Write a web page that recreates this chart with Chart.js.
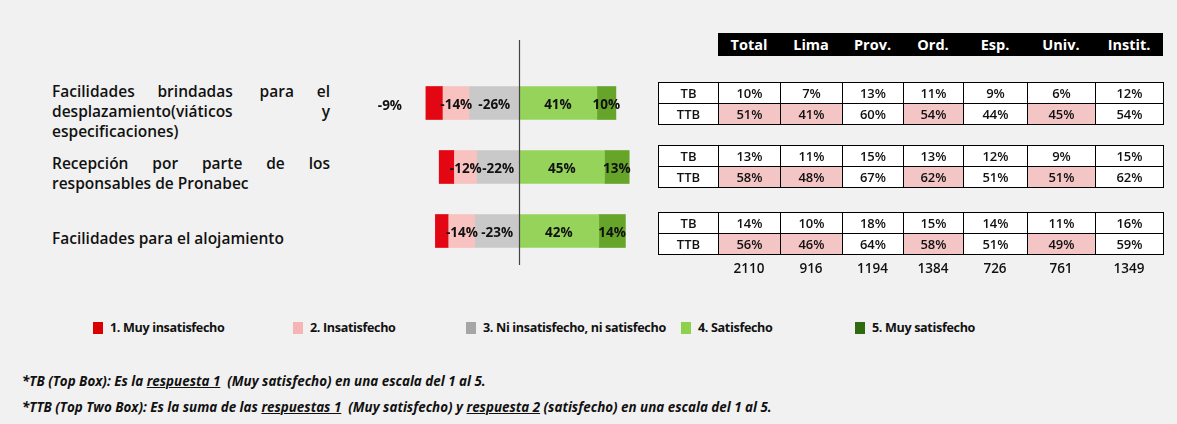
<!DOCTYPE html>
<html>
<head>
<meta charset="utf-8">
<script src="https://cdn.jsdelivr.net/npm/chart.js@4"></script>
<style>
  body { margin: 0; background: #f1f1f1; width: 1177px; height: 424px; overflow: hidden; position: relative; font-family: 'Open Sans', sans-serif; color: #111; }
  #chartWrap { position: absolute; left: 329px; top: 39px; width: 380px; height: 256px; }
  .q { position: absolute; left: 52px; width: 278px; font-size: 15.5px; font-weight: 600; line-height: 20px; }
  .q .ln { display: flex; justify-content: space-between; white-space: nowrap; }
  .q .ln.left { justify-content: flex-start; }
  #head { position: absolute; left: 718px; top: 33px; width: 445px; height: 23px; background: #000; display: flex; }
  #head div { color: #fff; font-weight: 700; font-size: 14.5px; text-align: center; line-height: 23px; }
  table.tb { position: absolute; left: 658px; width: 505px; border-collapse: collapse; table-layout: fixed; }
  table.tb td { border: 1.5px solid #000; height: 20px; padding: 0; text-align: center; font-size: 13px; font-weight: 600; background: #fff; }
  table.tb td.hl { background: #f3c5c5; }
  #bases { position: absolute; left: 718px; top: 259px; display: flex; }
  #bases div { text-align: center; font-size: 13.5px; font-weight: 600; }
  #legend { position: absolute; top: 319px; left: 0; width: 1177px; height: 18px; }
  #legend .it { position: absolute; display: flex; align-items: center; font-weight: 700; font-size: 12.6px; letter-spacing: -0.35px; white-space: nowrap; }
  #legend .sq { width: 10px; height: 12px; margin-right: 7px; }
  .nota { position: absolute; left: 22px; font-style: italic; font-weight: 700; font-size: 13.4px; white-space: nowrap; }
  .nota u { text-decoration-thickness: 1px; }
</style>
</head>
<body>
<div class="q" style="top:81px">
  <div class="ln"><span>Facilidades</span><span>brindadas</span><span>&nbsp;para</span><span>el</span></div>
  <div class="ln"><span>desplazamiento(viáticos</span><span>y</span></div>
  <div class="ln left"><span>especificaciones)</span></div>
</div>
<div class="q" style="top:153px">
  <div class="ln"><span>Recepción</span><span>por</span><span>parte</span><span>de</span><span>los</span></div>
  <div class="ln left"><span>responsables de Pronabec</span></div>
</div>
<div class="q" style="top:228px">
  <div class="ln left"><span>Facilidades para el alojamiento</span></div>
</div>

<div id="chartWrap"><canvas id="likertChart" width="380" height="256"></canvas></div>

<div id="head"></div>
<div id="tables"></div>
<div id="bases"></div>
<div id="legend"></div>

<div class="nota" style="top:372px">*TB (Top Box): Es la <u>respuesta 1</u>&nbsp; (Muy satisfecho) en una escala del 1 al 5.</div>
<div class="nota" style="top:398px">*TTB (Top Two Box): Es la suma de las <u>respuestas 1</u>&nbsp; (Muy satisfecho) y <u>respuesta 2</u> (satisfecho) en una escala del 1 al 5.</div>

<script>
// Data
const preguntas = [
    'Facilidades brindadas para el desplazamiento(viáticos y especificaciones)',
    'Recepción por parte de los responsables de Pronabec',
    'Facilidades para el alojamiento'
];
const muyInsatisfecho = [-9, -8, -7];
const insatisfecho = [-14, -12, -14];
const neutral = [-26, -22, -23];
const satisfecho = [41, 45, 42];
const muySatisfecho = [10, 13, 14];
// only the first red label is readable (outside the bar)
const etiquetaRojo = ['-9%', null, null];

const columnas = ['Total', 'Lima', 'Prov.', 'Ord.', 'Esp.', 'Univ.', 'Instit.'];
const anchos = [62, 62, 61, 60, 64, 68, 68];
const topBox = [
    [10, 7, 13, 11, 9, 6, 12],
    [13, 11, 15, 13, 12, 9, 15],
    [14, 10, 18, 15, 14, 11, 16]
];
const topTwoBox = [
    [51, 41, 60, 54, 44, 45, 54],
    [58, 48, 67, 62, 51, 51, 62],
    [56, 46, 64, 58, 51, 49, 59]
];
const resaltadas = [0, 1, 3, 5];
const bases = [2110, 916, 1194, 1384, 726, 761, 1349];

const leyenda = [
    { texto: '1. Muy insatisfecho', color: '#d90000', x: 93 },
    { texto: '2. Insatisfecho', color: '#f5b5b5', x: 293 },
    { texto: '3. Ni insatisfecho, ni satisfecho', color: '#a6a6a6', x: 466 },
    { texto: '4. Satisfecho', color: '#8fd14f', x: 681 },
    { texto: '5.  Muy satisfecho', color: '#2f6a0e', x: 855 }
];

// Header + tables
document.getElementById('head').innerHTML = columnas
    .map((c, i) => `<div style="width:${anchos[i]}px">${c}</div>`).join('');

const tablaTops = [82, 145, 212];
let html = '';
tablaTops.forEach((top, r) => {
    const colgroup = '<colgroup><col style="width:60px">' + anchos.map(w => `<col style="width:${w}px">`).join('') + '</colgroup>';
    const fila1 = '<tr><td>TB</td>' + topBox[r].map(v => `<td>${v}%</td>`).join('') + '</tr>';
    const fila2 = '<tr><td>TTB</td>' + topTwoBox[r].map((v, i) =>
        `<td class="${resaltadas.includes(i) ? 'hl' : ''}">${v}%</td>`).join('') + '</tr>';
    html += `<table class="tb" style="top:${top}px">${colgroup}${fila1}${fila2}</table>`;
});
document.getElementById('tables').innerHTML = html;

document.getElementById('bases').innerHTML = bases
    .map((b, i) => `<div style="width:${anchos[i]}px">${b}</div>`).join('');

document.getElementById('legend').innerHTML = leyenda.map(l =>
    `<div class="it" style="left:${l.x}px"><div class="sq" style="background:${l.color}"></div>${l.texto}</div>`).join('');

// Labels inside the segments
const segmentLabels = {
    id: 'segmentLabels',
    afterDatasetsDraw(chart) {
        const ctx = chart.ctx;
        ctx.save();
        ctx.font = 'bold 13.5px "Open Sans", sans-serif';
        ctx.fillStyle = '#111';
        ctx.textAlign = 'center';
        ctx.textBaseline = 'middle';
        chart.data.datasets.forEach((ds, di) => {
            const meta = chart.getDatasetMeta(di);
            meta.data.forEach((bar, i) => {
                if (ds.label === '1. Muy insatisfecho') {
                    if (etiquetaRojo[i]) ctx.fillText(etiquetaRojo[i], bar.x - 36, bar.y + 3);
                    return;
                }
                const cx = (bar.x + bar.base) / 2;
                ctx.fillText(ds.data[i] + '%', cx, bar.y + 2);
            });
        });
        ctx.restore();
    }
};

// Vertical zero line
const zeroLine = {
    id: 'zeroLine',
    afterDraw(chart) {
        const ctx = chart.ctx;
        const x = Math.round(chart.scales.x.getPixelForValue(0)) + 0.5;
        ctx.save();
        ctx.strokeStyle = '#444';
        ctx.lineWidth = 1.2;
        ctx.beginPath();
        ctx.moveTo(x, 1);
        ctx.lineTo(x, 226);
        ctx.stroke();
        ctx.restore();
    }
};

const ctx = document.getElementById('likertChart').getContext('2d');
new Chart(ctx, {
    type: 'bar',
    data: {
        labels: preguntas,
        datasets: [
            { label: '3. Ni insatisfecho, ni satisfecho', data: neutral, backgroundColor: '#c9c9c9' },
            { label: '2. Insatisfecho', data: insatisfecho, backgroundColor: '#f7c2c0' },
            { label: '1. Muy insatisfecho', data: muyInsatisfecho, backgroundColor: '#e30613' },
            { label: '4. Satisfecho', data: satisfecho, backgroundColor: '#95d35a' },
            { label: '5. Muy satisfecho', data: muySatisfecho, backgroundColor: '#66a52a' }
        ]
    },
    options: {
        indexAxis: 'y',
        responsive: false,
        animation: false,
        barThickness: 33,
        borderWidth: 0,
        layout: { padding: { top: 32, bottom: 32, left: 0, right: 0 } },
        plugins: {
            legend: { display: false },
            tooltip: { enabled: false }
        },
        scales: {
            x: { stacked: true, min: -100, max: 100, display: false },
            y: { stacked: true, display: false }
        }
    },
    plugins: [segmentLabels, zeroLine]
});
</script>
</body>
</html>
